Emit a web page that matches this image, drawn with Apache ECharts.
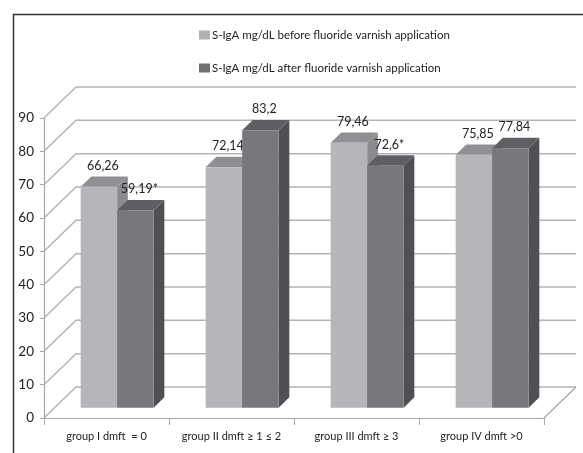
<!DOCTYPE html>
<html>
<head>
<meta charset="utf-8">
<script src="https://cdn.jsdelivr.net/npm/echarts@6/dist/echarts.min.js"></script>
<style>
  html, body { margin: 0; padding: 0; background: #fff; }
  #chart { width: 583px; height: 453px; }
</style>
</head>
<body>
<div id="chart"></div>
<script>
  // data
  var categories = ['group I dmft  = 0', 'group II dmft \u2265 1 \u2264 2', 'group III dmft \u2265 3', 'group IV dmft >0'];
  var seriesNames = ['S-IgA mg/dL before fluoride varnish application', 'S-IgA mg/dL after fluoride varnish application'];
  var beforeValues = [66.26, 72.14, 79.46, 75.85];
  var afterValues = [59.19, 83.2, 72.6, 77.84];
  var beforeLabels = ['66,26', '72,14', '79,46', '75,85'];
  var afterLabels = ['59,19*', '83,2', '72,6*', '77,84'];
  var yTicks = [0, 10, 20, 30, 40, 50, 60, 70, 80, 90];

  var FONT = "Lato, 'Liberation Sans Narrow', sans-serif";
  var DX = 32, DY = -31;   // depth of the 3d box
  var colors = {
    before: {front: '#b5b6b9', top: '#8f9093', side: '#8a8b8e', legend: '#b0b1b4'},
    after: {front: '#77787c', top: '#5e5f63', side: '#4f5053', legend: '#707175'}
  };

  var chart = echarts.init(document.getElementById('chart'));

  // back wall + side wall lines
  var wallRender = function (params, api) {
    var cs = params.coordSys;
    var y = api.coord([0, api.value(1)])[1];
    var x0 = cs.x, x1 = cs.x + cs.width;
    var children = [{
      type: 'polyline',
      shape: {points: [[x0, y], [x0 + DX, y + DY], [x1 + DX, y + DY]]},
      style: {stroke: '#b4b4b4', lineWidth: 1.5, fill: null}
    }];
    if (api.value(1) === 0) {
      children.push({
        type: 'line',
        shape: {x1: x1, y1: y, x2: x1 + DX, y2: y + DY},
        style: {stroke: '#a6a6a6', lineWidth: 1.2}
      });
    }
    return {type: 'group', children: children};
  };

  var barRender = function (which, labels) {
    var c = colors[which];
    return function (params, api) {
      var base = api.coord([api.value(0), 0]);
      var top = api.coord([api.value(0), api.value(1)]);
      var band = api.size([1, 0])[0];
      var w = band * 0.292;
      var fx = DX / 3, fy = DY / 3, bx = DX / 3, by = DY / 3;
      var L = (which === 'before' ? base[0] - w : base[0]) + fx;
      var yT = top[1] + fy, yB = base[1] + fy;
      return {
        type: 'group',
        children: [
          {type: 'polygon', shape: {points: [[L + w, yT], [L + w + bx, yT + by], [L + w + bx, yB + by], [L + w, yB]]},
            style: {fill: c.side}},
          {type: 'polygon', shape: {points: [[L, yT], [L + bx, yT + by], [L + w + bx, yT + by], [L + w, yT]]},
            style: {fill: c.top}},
          {type: 'rect', shape: {x: L, y: yT, width: w, height: yB - yT}, style: {fill: c.front}},
          {type: 'text', x: L + w / 2 + 4, y: yT - 21,
            style: {text: labels[params.dataIndex], fill: '#222', font: '12.5px ' + FONT, align: 'center', verticalAlign: 'middle'}}
        ]
      };
    };
  };

  var option = {
    animation: false,
    graphic: [{
      type: 'rect', left: 11, top: 12, z: -10,
      shape: {width: 620, height: 500},
      style: {fill: null, stroke: '#333', lineWidth: 1.5}
    }],
    legend: {
      orient: 'vertical',
      left: 194, top: 24,
      itemWidth: 11, itemHeight: 9, itemGap: 21,
      icon: 'rect',
      selectedMode: false,
      textStyle: {fontFamily: FONT, fontSize: 11.5, color: '#222', padding: [0, 0, 0, -3]},
      data: seriesNames
    },
    grid: {left: 44, right: 39, top: 118, bottom: 35},
    xAxis: {
      type: 'category',
      data: categories,
      boundaryGap: true,
      axisLine: {lineStyle: {color: '#a6a6a6', width: 1.2}},
      axisTick: {show: true, interval: 0, length: 7, lineStyle: {color: '#a6a6a6'}},
      axisLabel: {interval: 0, fontFamily: FONT, fontSize: 11, color: '#222', margin: 13}
    },
    yAxis: {
      type: 'value',
      min: 0, max: 90, interval: 10,
      axisLine: {show: true, lineStyle: {color: '#a6a6a6', width: 1.2}},
      axisTick: {show: true, length: 4, lineStyle: {color: '#a6a6a6'}},
      axisLabel: {fontFamily: FONT, fontSize: 13.5, color: '#222', margin: 10},
      splitLine: {show: false}
    },
    series: [
      {
        type: 'custom', name: 'wall', silent: true, z: 1,
        renderItem: wallRender,
        data: yTicks.map(function (v) { return [0, v]; })
      },
      {
        type: 'custom', name: seriesNames[0], z: 2,
        itemStyle: {color: colors.before.legend},
        renderItem: barRender('before', beforeLabels),
        encode: {x: 0, y: 1},
        data: beforeValues.map(function (v, i) { return [i, v]; })
      },
      {
        type: 'custom', name: seriesNames[1], z: 3,
        itemStyle: {color: colors.after.legend},
        renderItem: barRender('after', afterLabels),
        encode: {x: 0, y: 1},
        data: afterValues.map(function (v, i) { return [i, v]; })
      }
    ]
  };
  chart.setOption(option);
</script>
</body>
</html>
